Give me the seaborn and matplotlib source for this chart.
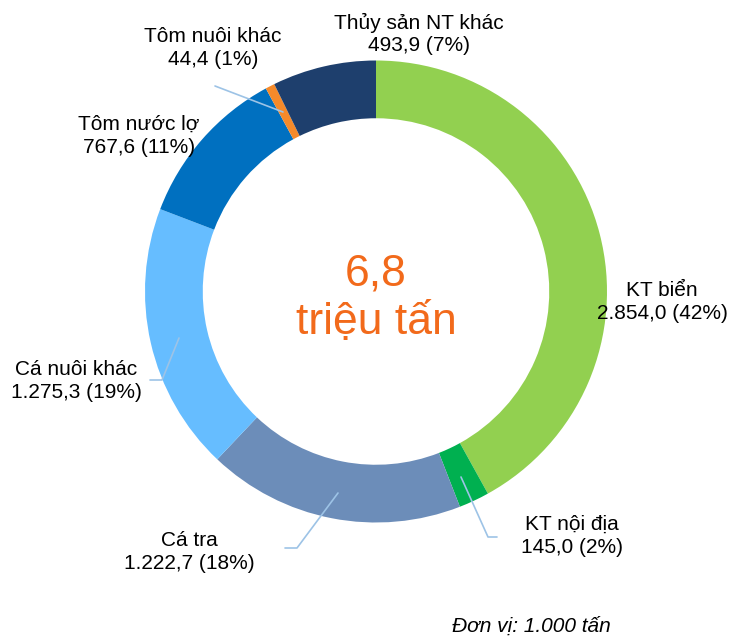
import matplotlib.pyplot as plt
import seaborn as sns

# Sản lượng thủy sản (1.000 tấn)
categories = ['KT biển', 'KT nội địa', 'Cá tra', 'Cá nuôi khác',
              'Tôm nước lợ', 'Tôm nuôi khác', 'Thủy sản NT khác']
values = [2854.0, 145.0, 1222.7, 1275.3, 767.6, 44.4, 493.9]
value_labels = ['2.854,0', '145,0', '1.222,7', '1.275,3', '767,6', '44,4', '493,9']
percents = [42, 2, 18, 19, 11, 1, 7]
colors = ['#92D050', '#00B050', '#6C8DB9', '#66BDFF', '#0070C0', '#F58A2A', '#1E3F6D']

sns.set_theme(style='white')
plt.rcParams['font.family'] = ['Liberation Sans', 'DejaVu Sans']

fig = plt.figure(figsize=(7.31, 6.38), dpi=100)
ax = fig.add_axes([0, 0, 1, 1])

# ring centered at pixel (376, 291.5), radius 231 px
R = 231.0
cx, cy = 376.0, 291.5


def px(x, y):
    return (x - cx) / R, (cy - y) / R


ax.pie(values, colors=colors, startangle=90, counterclock=False, radius=1,
       wedgeprops=dict(width=0.25, linewidth=0))

ax.set_xlim(px(0, 0)[0], px(731, 0)[0])
ax.set_ylim(px(0, 638)[1], px(0, 0)[1])
ax.set_aspect('auto')
ax.axis('off')

# label positions (pixel) and optional leader lines
label_pos = [(662, 302), (572, 536), (189, 552), (76, 381),
             (139, 136), (213, 48), (419, 34)]
leaders = {
    1: [(461, 477), (488, 537), (497, 537)],
    2: [(338, 493), (297, 548), (285, 548)],
    3: [(179, 338), (162, 380), (150, 380)],
    5: [(283, 112), (215, 86)],
}
line_color = '#9DC3E6'

for i, (name, v, p) in enumerate(zip(categories, value_labels, percents)):
    x, y = px(*label_pos[i])
    ax.text(x, y, f'{name}\n{v} ({p}%)', ha='center', va='center',
            fontsize=15, color='#000000', linespacing=1.25)
    if i in leaders:
        pts = [px(*q) for q in leaders[i]]
        ax.plot([q[0] for q in pts], [q[1] for q in pts], color=line_color, lw=1.2)

ax.text(0, px(0, 274)[1], '6,8', ha='center', va='center', fontsize=32, color='#F26A1B')
ax.text(0, px(0, 322)[1], 'triệu tấn', ha='center', va='center', fontsize=32, color='#F26A1B')

ax.text(*px(531, 626), 'Đơn vị: 1.000 tấn', ha='center', va='center',
        fontsize=15, style='italic', color='#000000')

fig.savefig('out.png', dpi=100)
